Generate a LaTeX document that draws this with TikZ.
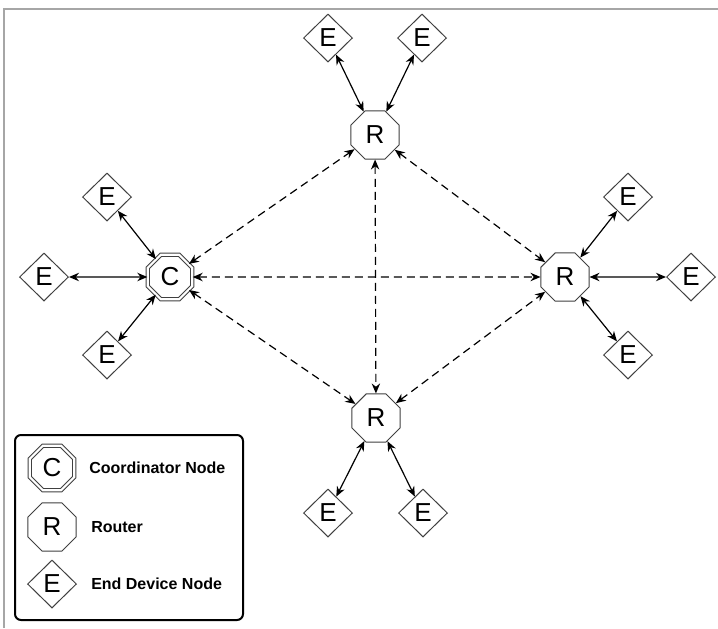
\documentclass[tikz,border=0pt]{standalone}
\usepackage{fontspec}
\setmainfont{Liberation Sans}
\usetikzlibrary{arrows.meta,shapes.geometric}
\tikzset{
  netnode/.style = {align=center, text centered, inner sep=0pt,
    draw=black!75, line width=0.5pt, fill=white,
    font=\fontsize{13}{15}\selectfont},
  rtr_n/.style = {netnode, regular polygon, regular polygon sides=8,
    minimum size=26pt},% routeur
  crd_n/.style = {rtr_n, double, double distance=1.1pt,
    minimum size=24pt},% coordinateur, trait double
  end_n/.style = {netnode, diamond, minimum width=24.5pt,
    minimum height=24pt},% terminal
  radio/.style = {dash pattern=on 4pt off 2.5pt},
  legtext/.style = {anchor=west, font=\bfseries\fontsize{8}{10}\selectfont},
}
\begin{document}
\begin{tikzpicture}[<->,>={Stealth[length=5pt,width=4.2pt]},x=0.5pt,y=-0.5pt,line width=0.6pt]
\useasboundingbox (0,0) rectangle (718,628);
\draw[-,black!35,line width=1pt] (4,628) -- (4,9) -- (718,9);

% coordinator and routers
\node [crd_n] (crd) at (170,277) {C};
\node [rtr_n] (rtop) at (375,135) {R};
\node [rtr_n] (rright) at (565,277) {R};
\node [rtr_n] (rbot) at (376,418) {R};

% end devices
\node [end_n] (et1) at (328,38) {E};
\node [end_n] (et2) at (422,38) {E};
\node [end_n] (el1) at (107,197) {E};
\node [end_n] (el2) at (44,277) {E};
\node [end_n] (el3) at (107,355) {E};
\node [end_n] (er1) at (628,197) {E};
\node [end_n] (er2) at (691,277) {E};
\node [end_n] (er3) at (628,355) {E};
\node [end_n] (eb1) at (328,513) {E};
\node [end_n] (eb2) at (423,513) {E};

% links between coordinator and routers
\draw [radio] (crd) -- (rtop);
\draw [radio] (crd) -- (rright);
\draw [radio] (crd) -- (rbot);
\draw [radio] (rtop) -- (rright);
\draw [radio] (rtop) -- (rbot);
\draw [radio] (rbot) -- (rright);

% links to end devices
\draw (rtop) -- (et1);
\draw (rtop) -- (et2);
\draw (crd) -- (el1);
\draw (crd) -- (el2);
\draw (crd) -- (el3);
\draw (rright) -- (er1);
\draw (rright) -- (er2);
\draw (rright) -- (er3);
\draw (rbot) -- (eb1);
\draw (rbot) -- (eb2);

% legend
\draw [-,line width=1pt,rounded corners=3pt] (15,435) rectangle (243,620);
\node [crd_n] (legc) at (52,468) {C};
\node [rtr_n] (legr) at (52,527) {R};
\node [end_n] (lege) at (52,584) {E};
\node [legtext] (legctext) at (82,468) {Coordinator Node};
\node [legtext] (legrtext) at (84,527) {Router};
\node [legtext] (legetext) at (84,584) {End Device Node};
\end{tikzpicture}
\end{document}
